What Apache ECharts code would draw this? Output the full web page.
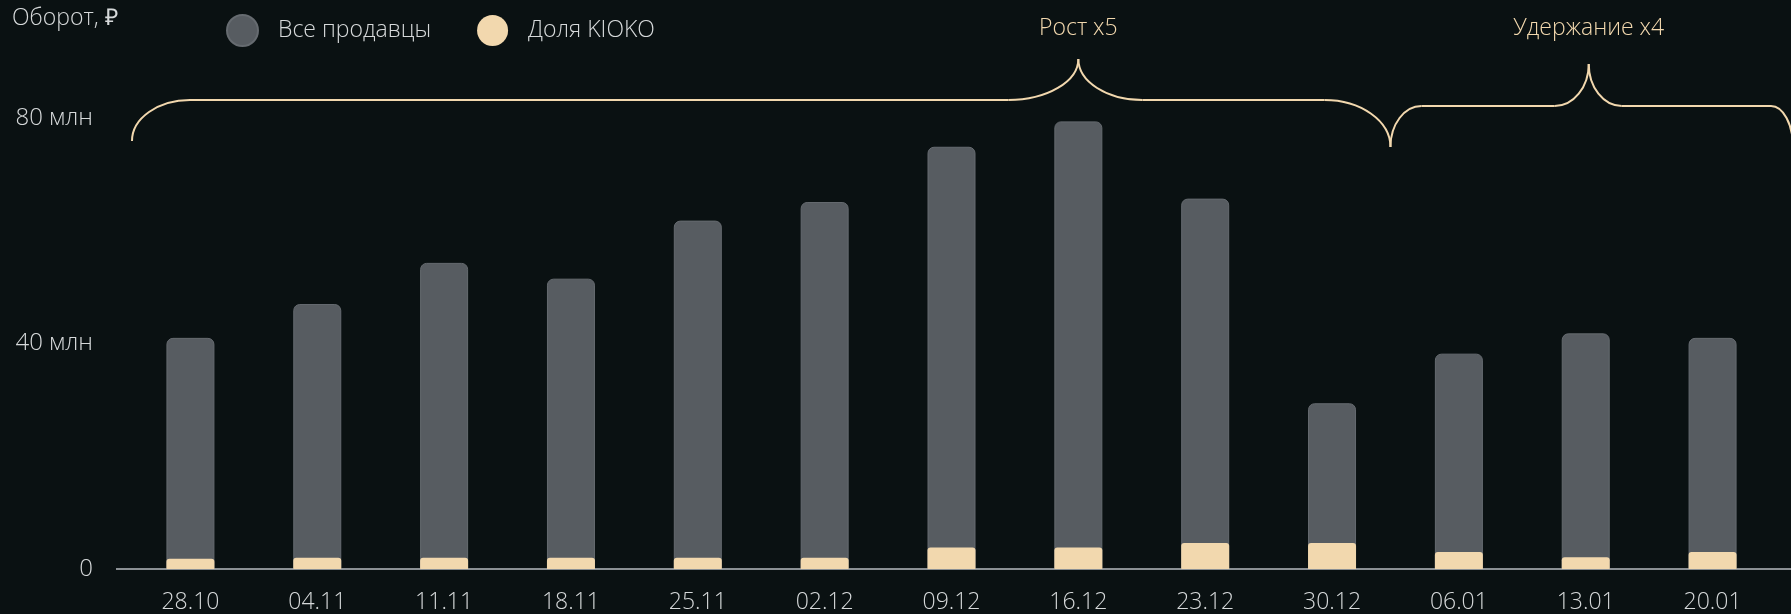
<!DOCTYPE html>
<html>
<head>
<meta charset="utf-8">
<script src="https://cdn.jsdelivr.net/npm/echarts@6/dist/echarts.min.js"></script>
<style>
html,body{margin:0;padding:0;background:#0a1112;}
#c{width:1791px;height:614px;}
</style>
</head>
<body>
<div id="c"></div>
<script>
const categories = ['28.10','04.11','11.11','18.11','25.11','02.12','09.12','16.12','23.12','30.12','06.01','13.01','20.01'];
const allSellers = [41.0, 47.0, 54.3, 51.5, 61.8, 65.1, 74.9, 79.4, 65.7, 29.4, 38.2, 41.8, 41.0];
const kioko = [1.8, 2.0, 2.0, 2.0, 2.0, 2.0, 3.8, 3.8, 4.6, 4.6, 3.0, 2.1, 3.0];
const yTicks = [0, 40, 80];
const yTickLabels = ['0', '40 млн', '80 млн'];
const seriesNames = ['Все продавцы', 'Доля KIOKO'];
const braceLabels = ['Рост x5', 'Удержание x4'];

const FONT = '"Open Sans", sans-serif';
const TXT = '#d6d9da';
const GOLD = '#f2d8ae';
const GRAY = '#575c61';

const chart = echarts.init(document.getElementById('c'), null, {renderer: 'canvas'});
chart.setOption({
  backgroundColor: '#0a1112',
  animation: false,
  textStyle: {fontFamily: FONT},
  grid: {left: 127, right: 15, top: 118, bottom: 45},
  legend: {
    left: 221, top: 9,
    itemWidth: 31, itemHeight: 31, itemGap: 46,
    icon: 'circle',
    data: seriesNames,
    textStyle: {color: TXT, fontSize: 23, fontWeight: 300, fontFamily: FONT, padding: [0, 0, 0, 15]}
  },
  xAxis: {
    type: 'category',
    data: categories,
    axisLine: {show: false},
    axisTick: {show: false},
    axisLabel: {color: TXT, fontSize: 23, fontWeight: 300, margin: 22, fontFamily: FONT}
  },
  yAxis: {
    type: 'value',
    min: yTicks[0], max: yTicks[yTicks.length - 1], interval: yTicks[1] - yTicks[0],
    splitLine: {show: false},
    axisLine: {show: false},
    axisTick: {show: false},
    axisLabel: {
      color: TXT, fontSize: 24, fontWeight: 300, margin: 34, fontFamily: FONT,
      formatter: v => yTickLabels[yTicks.indexOf(v)]
    }
  },
  series: [{
    name: seriesNames[0], type: 'bar', data: allSellers,
    barWidth: 48, barGap: '-100%',
    itemStyle: {color: GRAY, borderRadius: [6, 6, 0, 0], borderColor: '#666b70', borderWidth: 1}
  }, {
    name: seriesNames[1], type: 'bar', data: kioko,
    barWidth: 48, barGap: '-100%',
    itemStyle: {color: GOLD, borderRadius: [3, 3, 0, 0]}
  }]
});

// annotations: axis line and braces, anchored to category positions
const px = i => chart.convertToPixel({xAxisIndex: 0}, i);
const y0 = chart.convertToPixel({yAxisIndex: 0}, 0);
const band = px(1) - px(0);
const k = 0.552;
const lineStyle = {stroke: GOLD, lineWidth: 2, fill: null};

function bez(x1, y1, c1x, c1y, c2x, c2y, x2, y2) {
  return {type: 'bezierCurve', shape: {x1, y1, x2, y2, cpx1: c1x, cpy1: c1y, cpx2: c2x, cpy2: c2y}, style: lineStyle};
}
function seg(x1, y1, x2, y2) {
  return {type: 'line', shape: {x1, y1, x2, y2}, style: lineStyle};
}
function brace(x0, xPeak, x1, yLine, yPeak, tipL, tipR, wL, wP, wR) {
  const dyL = tipL - yLine, dyR = tipR - yLine, dyP = yLine - yPeak;
  return [
    bez(x0, tipL, x0, tipL - k*dyL, x0 + wL - k*wL, yLine, x0 + wL, yLine),
    seg(x0 + wL, yLine, xPeak - wP[0], yLine),
    bez(xPeak - wP[0], yLine, xPeak - wP[0] + k*wP[0], yLine, xPeak, yPeak + k*dyP, xPeak, yPeak),
    bez(xPeak, yPeak, xPeak, yPeak + k*dyP, xPeak + wP[1] - k*wP[1], yLine, xPeak + wP[1], yLine),
    seg(xPeak + wP[1], yLine, x1 - wR, yLine),
    bez(x1 - wR, yLine, x1 - wR + k*wR, yLine, x1, tipR - k*dyR, x1, tipR)
  ];
}

const b1x0 = px(0) - band / 2 + 5;
const b1x1 = (px(9) + px(10)) / 2 - 5;
const b2x1 = 1793;
const peak2 = px(11) + 3;

chart.setOption({
  graphic: [{
    type: 'text', left: 12, top: 7,
    style: {text: 'Оборот, ₽', fill: TXT, font: '300 23px ' + FONT}
  }, {
    type: 'line', shape: {x1: 116, y1: y0, x2: 1791, y2: y0},
    style: {stroke: '#8b9094', lineWidth: 2}, z: 1
  }].concat(
    brace(b1x0, px(7), b1x1, 100, 59, 141, 147, 58, [70, 64], 66),
    brace(b1x1, peak2, b2x1, 106, 64, 147, 147, 31, [34, 33], 22),
    [{
      type: 'text', x: px(7), y: 28,
      style: {text: braceLabels[0], fill: GOLD, font: '300 23px ' + FONT, textAlign: 'center', textVerticalAlign: 'middle'}
    }, {
      type: 'text', x: peak2, y: 28,
      style: {text: braceLabels[1], fill: GOLD, font: '300 23px ' + FONT, textAlign: 'center', textVerticalAlign: 'middle'}
    }]
  )
});
</script>
</body>
</html>
